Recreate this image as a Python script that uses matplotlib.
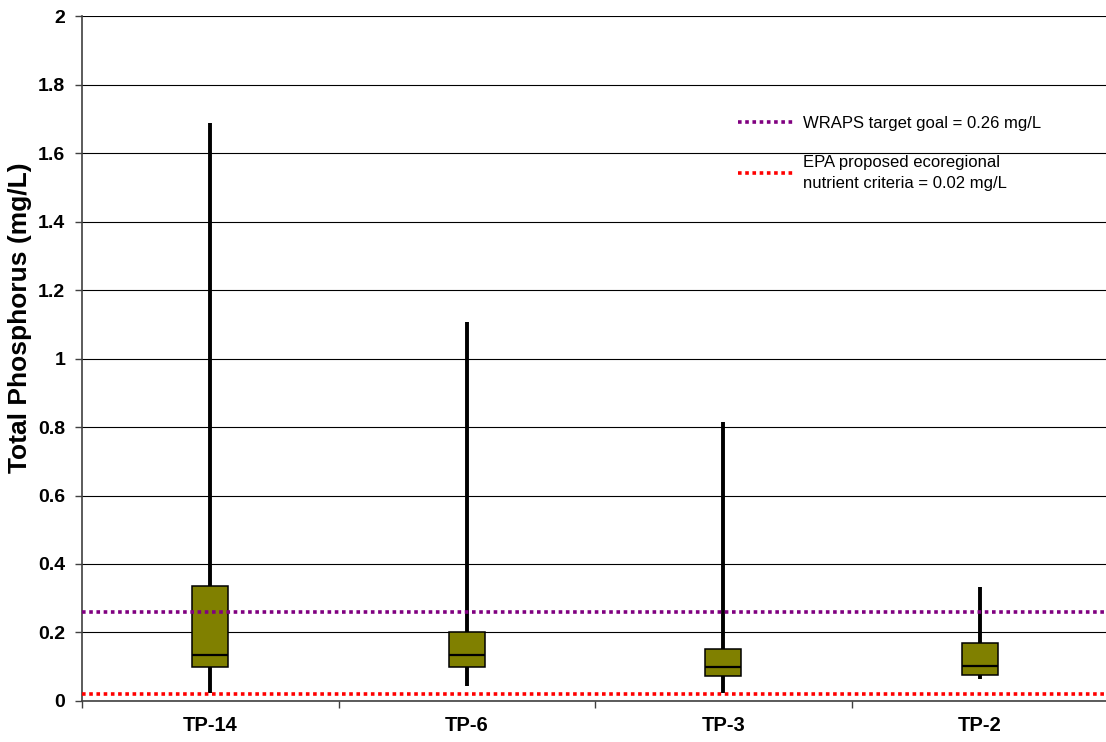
import matplotlib.pyplot as plt
from matplotlib.ticker import FixedLocator, FuncFormatter
from matplotlib.lines import Line2D

plt.rcParams['font.family'] = ['Liberation Sans', 'DejaVu Sans']

# Total phosphorus summary per site (mg/L)
sites = ['TP-14', 'TP-6', 'TP-3', 'TP-2']
tp_min = [0.024, 0.044, 0.024, 0.063]
tp_q1 = [0.100, 0.100, 0.073, 0.076]
tp_median = [0.133, 0.134, 0.100, 0.101]
tp_q3 = [0.336, 0.200, 0.153, 0.168]
tp_max = [1.688, 1.107, 0.815, 0.334]

wraps_goal = 0.26
epa_criteria = 0.02

stats = []
for name, lo, q1, med, q3, hi in zip(sites, tp_min, tp_q1, tp_median, tp_q3, tp_max):
    stats.append({'label': name, 'whislo': lo, 'q1': q1, 'med': med,
                  'q3': q3, 'whishi': hi})

fig = plt.figure(figsize=(11.06, 7.42), dpi=100)
ax = fig.add_axes([0.0741, 0.0553, 0.928, 0.923])

positions = list(range(len(sites)))
ax.bxp(stats, positions=positions, widths=0.14, showcaps=False,
       showfliers=False, patch_artist=True,
       boxprops=dict(facecolor='#808000', edgecolor='black', linewidth=1.1),
       whiskerprops=dict(color='black', linewidth=2.8, solid_capstyle='butt'),
       medianprops=dict(color='black', linewidth=1.6),
       zorder=3)

dotted = dict(linewidth=2.6, linestyle=(0, (1, 1)), dash_capstyle='butt')
ax.axhline(wraps_goal, color='#800080', zorder=4, **dotted)
ax.axhline(epa_criteria, color='#ff0000', zorder=4, **dotted)

ax.set_xlim(-0.5, len(sites) - 0.5)
ax.set_ylim(0, 2)

# y axis
ax.yaxis.set_major_locator(FixedLocator([i * 0.2 for i in range(11)]))
ax.yaxis.set_major_formatter(FuncFormatter(lambda v, p: f'{v:g}'))
ax.yaxis.grid(True, color='black', linewidth=0.8)
ax.set_axisbelow(True)
ax.tick_params(axis='y', direction='out', length=5, width=1, color='#404040',
               pad=7, labelsize=14)
for lbl in ax.get_yticklabels():
    lbl.set_fontweight('bold')
ax.set_ylabel('Total Phosphorus (mg/L)', fontsize=19, fontweight='bold')
ax.yaxis.set_label_coords(-0.049, 0.559)

# x axis: ticks on category boundaries, labels at centres
ax.xaxis.set_major_locator(FixedLocator([p - 0.5 for p in range(len(sites) + 1)]))
ax.xaxis.set_major_formatter(FuncFormatter(lambda v, p: ''))
ax.xaxis.set_minor_locator(FixedLocator(positions))
ax.xaxis.set_minor_formatter(FuncFormatter(lambda v, p: sites[int(round(v))]))
ax.tick_params(axis='x', which='major', direction='out', length=5, width=1,
               color='#404040')
ax.tick_params(axis='x', which='minor', length=0, pad=11, labelsize=14.5)
for lbl in ax.get_xticklabels(minor=True):
    lbl.set_fontweight('bold')

for side in ['top', 'right']:
    ax.spines[side].set_visible(False)
for side in ['left', 'bottom']:
    ax.spines[side].set_color('#404040')
    ax.spines[side].set_linewidth(1.2)

handles = [
    Line2D([], [], color='#800080', **dotted),
    Line2D([], [], color='#ff0000', **dotted),
]
labels = [f'WRAPS target goal = {wraps_goal} mg/L',
          f'EPA proposed ecoregional\nnutrient criteria = {epa_criteria} mg/L']
leg = ax.legend(handles, labels, loc='upper left', bbox_to_anchor=(0.625, 0.876),
                frameon=False, fontsize=12, handlelength=3.3, handletextpad=0.6,
                labelspacing=1.45)
for t in leg.get_texts():
    t.set_linespacing(1.5)

fig.savefig('out.png', dpi=100)
